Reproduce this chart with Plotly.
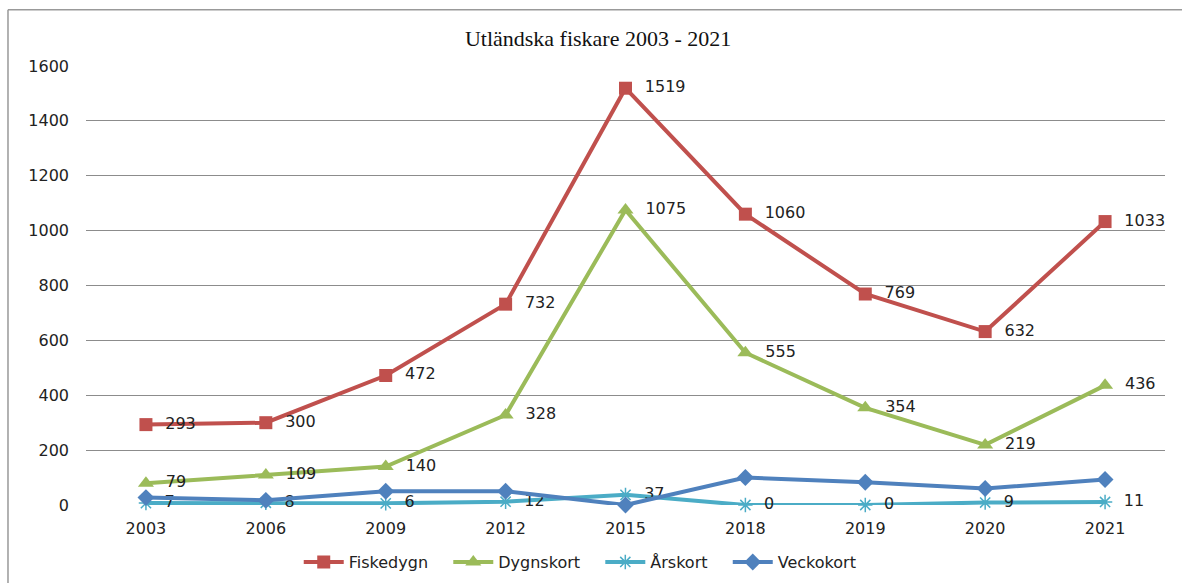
import plotly.graph_objects as go

years = ["2003", "2006", "2009", "2012", "2015", "2018", "2019", "2020", "2021"]
fiskedygn = [293, 300, 472, 732, 1519, 1060, 769, 632, 1033]
dygnskort = [79, 109, 140, 328, 1075, 555, 354, 219, 436]
arskort = [7, 8, 6, 12, 37, 0, 0, 9, 11]
veckokort = [27, 17, 50, 50, 0, 100, 83, 60, 93]

title = "Utländska fiskare 2003 - 2021"
yticks = [0, 200, 400, 600, 800, 1000, 1200, 1400, 1600]

font = "DejaVu Sans, Verdana, sans-serif"
pad = "\u00a0\u00a0\u00a0"
fig = go.Figure()

def add(name, vals, color, symbol, size, labels=True):
    fig.add_trace(go.Scatter(
        x=years, y=vals, name=name + pad, mode="lines+markers+text" if labels else "lines+markers",
        line=dict(color=color, width=4),
        marker=dict(symbol=symbol, size=size, color=color,
                    line=dict(color=color, width=1.5 if "asterisk" in symbol else 0)),
        text=["  " + str(v) for v in vals] if labels else None,
        textposition="middle right",
        textfont=dict(family=font, size=16, color="#222222"),
        cliponaxis=False,
    ))

add("Fiskedygn", fiskedygn, "#C0504D", "square", 13)
add("Dygnskort", dygnskort, "#9BBB59", "triangle-up", 14)
add("Årskort", arskort, "#4BACC6", "asterisk-open", 12)
add("Veckokort", veckokort, "#4F81BD", "diamond", 13, labels=False)

fig.update_layout(
    width=1182, height=583,
    margin=dict(l=86, r=17, t=66, b=78, autoexpand=False),
    paper_bgcolor="white", plot_bgcolor="white",
    title=dict(text=title, x=0.506, xanchor="center", y=0.935, yanchor="middle",
               font=dict(family="Liberation Serif, Times New Roman, serif", size=22, color="#111111")),
    xaxis=dict(type="category", range=[-0.5, 8.5], showgrid=False, showline=False,
               ticks="", ticklabelstandoff=12,
               tickfont=dict(family=font, size=16, color="#222222"), zeroline=False),
    yaxis=dict(range=[0, 1600], tickvals=yticks, showgrid=True, gridcolor="#8c8c8c", gridwidth=1.2,
               zeroline=False, showline=False, ticks="", ticklabelstandoff=16,
               tickfont=dict(family=font, size=16, color="#222222")),
    legend=dict(orientation="h", x=0.465, xanchor="center", y=-0.13, yanchor="middle",
                font=dict(family=font, size=16, color="#222222"), itemwidth=40,
                traceorder="normal"),
    showlegend=True,
)
fig.add_shape(type="line", xref="paper", yref="paper", x0=-0.0723, x1=1.02, y0=1.128, y1=1.128,
              line=dict(color="#999999", width=1.5))
fig.add_shape(type="line", xref="paper", yref="paper", x0=-0.0723, x1=-0.0723, y0=1.128, y1=-0.2,
              line=dict(color="#999999", width=1.5))

fig.write_html("out.html", config={"displayModeBar": False},
               post_script="document.body.style.margin='0';")
